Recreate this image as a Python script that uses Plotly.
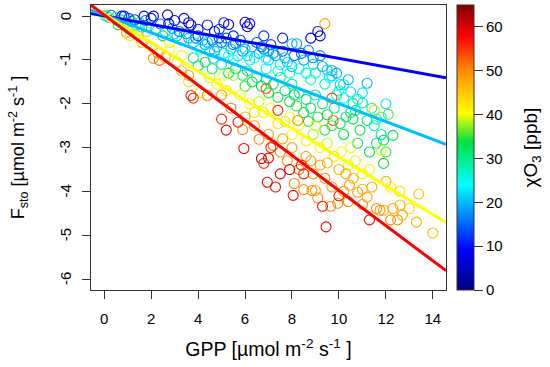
import plotly.graph_objects as go
import numpy as np

# ---- data ----
pts = [
# near origin
(0.0,0.02,38),(0.1,0.0,30),(0.2,-0.03,22),(0.3,0.02,15),(0.35,-0.05,42),(0.5,-0.02,28),(0.55,-0.1,36),
(0.7,-0.08,20),(0.75,0.0,10),(0.85,0.0,8),(0.9,-0.15,24),(0.95,-0.37,48),(1.0,-0.25,40),(1.05,-0.05,14),
(1.15,-0.12,18),(1.2,-0.3,44),(1.3,-0.08,12),(1.35,-0.2,26),(1.45,-0.4,46),(1.5,-0.15,22),(1.6,-0.25,30),
(1.7,0.0,7),(1.75,-0.1,16),(1.8,-0.35,38),(1.9,-0.22,24),(2.0,-0.05,10),(2.1,0.0,6),(2.1,-0.96,50),
(2.2,-0.3,21),(2.3,-0.85,49),(2.35,-1.01,52),(2.4,-0.18,15),(2.5,-0.45,34),(2.6,-0.35,22),(2.7,0.03,6),
(2.75,-0.17,8),(2.8,-0.6,40),(2.9,-0.28,18),(3.0,-0.4,23),(0.6,-0.2,32),(1.1,-0.45,42),(1.6,-0.6,44),
(2.0,-0.7,40),(2.6,-0.95,46),(3.1,-1.05,44),(3.3,-1.25,46),
# blue
(3.0,-0.1,9),(3.4,-0.05,7),(3.6,-0.15,6),(3.7,-0.2,8),(4.0,-0.3,10),(4.4,-0.2,11),(4.7,-0.35,9),
(4.9,-0.3,12),(5.3,-0.19,6),(5.5,-0.45,10),(6.0,-0.14,6),(6.1,-0.24,7),(6.2,-0.17,8),(8.8,-0.5,9),
(9.1,-0.35,8),(9.2,-0.45,9),(7.6,-0.5,11),(6.8,-0.45,12),(5.1,-0.15,10),
# cyan
(3.1,-0.45,20),(3.3,-0.55,24),(3.5,-0.4,18),(3.8,-0.6,22),(3.9,-0.5,16),(4.1,-0.75,25),(4.2,-0.55,20),
(4.3,-0.65,18),(4.5,-0.8,23),(4.6,-0.55,15),(4.65,-0.96,22),(4.8,-0.7,19),(5.0,-0.6,17),(5.1,-0.85,24),
(5.2,-0.5,14),(5.4,-0.75,20),(5.6,-0.62,16),(5.7,-0.9,22),(5.8,-0.55,13),(5.9,-0.8,19),(6.3,-0.7,18),
(6.4,-0.95,24),(6.5,-0.6,15),(6.6,-0.85,20),(6.8,-0.75,17),(7.0,-1.0,22),(7.1,-0.65,14),(7.3,-0.9,19),
(7.5,-1.1,23),(7.6,-0.8,16),(7.8,-1.05,21),(8.0,-0.63,20),(8.2,-0.63,18),(8.1,-0.9,15),(8.3,-1.2,24),
(8.5,-1.0,19),(8.7,-0.78,18),(8.9,-1.1,22),(9.0,-1.3,25),(9.2,-0.9,17),(9.5,-1.23,21),(9.6,-1.4,23),
(9.7,-1.24,20),(9.7,-1.36,22),(10.05,-1.56,21),(10.2,-1.56,23),(10.5,-1.73,22),(10.2,-1.87,24),
(11.2,-1.53,20),
(3.2,-0.35,16),(3.6,-0.5,19),(4.0,-0.45,15),(4.4,-0.6,21),(4.9,-0.5,14),(5.3,-0.9,25),(5.5,-0.65,17),
(6.0,-0.75,21),(6.2,-1.0,26),(6.7,-0.7,15),(6.9,-0.95,23),(7.2,-0.85,18),(7.4,-1.25,26),(7.7,-0.95,20),
(8.4,-0.85,16),(8.6,-1.3,27),(8.9,-0.95,17),(9.3,-1.15,20),(9.4,-1.55,27),(9.9,-1.3,19),(10.0,-1.7,25),
(10.4,-1.45,20),(10.8,-1.9,26),(11.0,-1.75,23),(11.4,-2.1,27),(11.8,-2.3,26),(12.0,-2.0,22),
(4.7,-0.8,20),(5.5,-1.0,24),(6.1,-0.9,22),(6.9,-1.2,25),(7.9,-1.3,26),(8.8,-1.45,26),(9.9,-1.8,27),
(10.7,-2.15,28),(11.6,-2.35,27),(7.0,-0.8,18),(8.0,-1.15,21),
# green
(3.8,-0.95,30),(4.0,-1.13,32),(4.3,-1.05,34),(4.6,-1.2,30),(5.0,-1.1,28),(5.3,-1.3,33),(5.6,-1.2,31),
(5.9,-1.35,32),(6.1,-1.25,29),(6.3,-1.5,34),(6.5,-1.4,31),(6.7,-1.6,33),(6.9,-1.45,30),(7.0,-1.75,35),
(7.2,-1.55,32),(7.4,-1.85,34),(7.5,-1.4,28),(7.7,-1.7,31),(7.9,-1.95,33),(8.0,-1.55,29),(8.2,-2.05,35),
(8.3,-1.75,30),(8.5,-2.2,34),(8.6,-1.9,31),(8.8,-2.1,32),(9.0,-1.8,29),(9.1,-2.3,34),(9.3,-2.0,31),
(9.5,-2.25,33),(9.7,-2.5,35),(9.8,-2.1,30),(10.05,-2.45,32),(10.3,-2.3,31),(10.5,-2.2,30),(10.6,-1.99,30),
(10.6,-2.35,34),(10.9,-2.6,33),(11.0,-1.98,29),(11.2,-2.38,31),(11.5,-2.5,27),(11.8,-2.7,30),
(11.9,-2.83,32),(12.3,-2.72,33),(11.9,-3.36,34),(12.1,-2.24,36),(10.8,-2.9,32),(11.3,-3.1,33),
(11.6,-2.9,30),(12.0,-3.1,35),(8.1,-1.8,32),(8.7,-2.4,34),(9.4,-2.6,35),(10.2,-2.7,34),(6.0,-1.6,35),
# yellow
(2.8,-0.75,40),(3.3,-0.9,40),(3.6,-1.5,44),(4.1,-1.74,41),(4.5,-1.4,39),(5.1,-1.35,40),(5.5,-1.35,38),
(5.2,-1.7,42),(5.8,-1.8,40),(6.2,-2.0,41),(6.6,-1.95,39),(6.8,-2.2,42),(7.1,-2.1,40),(7.4,-2.45,43),
(7.7,-2.4,39),(8.0,-2.7,41),(8.3,-2.5,40),(8.6,-2.85,42),(8.9,-2.7,38),(9.2,-3.0,41),(9.5,-2.9,39),
(9.8,-3.2,42),(10.1,-3.1,40),(10.4,-3.4,41),(10.7,-3.3,39),(11.0,-3.6,42),(11.3,-3.5,40),(11.5,-2.15,44),
(11.8,-3.06,39),(12.2,-3.9,41),(12.6,-4.0,43),(13.0,-4.39,44),(4.8,-1.55,41),(6.4,-2.2,43),(7.9,-2.3,40),
(9.0,-2.5,39),(10.5,-3.0,41),
# orange
(3.6,-1.35,48),(4.4,-1.81,50),(5.0,-1.8,49),(5.4,-2.1,51),(5.9,-2.59,50),(6.0,-2.3,47),(6.4,-2.5,48),
(6.6,-2.81,50),(6.9,-1.65,53),(7.0,-2.7,49),(7.2,-2.95,51),(7.5,-3.1,49),(7.6,-2.8,47),(7.8,-3.3,50),
(8.0,-3.0,48),(8.1,-3.82,50),(8.25,-2.38,50),(8.3,-3.5,51),(8.5,-3.96,49),(8.6,-3.2,48),(8.85,-3.98,50),
(8.9,-3.6,49),(9.0,-3.98,48),(9.1,-4.15,50),(9.2,-3.4,47),(9.4,-3.7,49),(9.65,-4.34,51),(9.7,-3.9,48),
(9.95,-4.27,50),(10.0,-3.5,47),(10.2,-4.0,49),(10.4,-4.23,50),(10.45,-3.86,48),(10.6,-3.7,47),
(10.8,-4.02,49),(11.0,-4.3,50),(11.2,-4.13,48),(11.4,-3.9,47),(11.6,-4.39,50),(11.75,-4.43,49),
(11.9,-4.43,48),(12.0,-3.77,47),(12.2,-4.65,50),(12.3,-4.39,48),(12.5,-4.65,49),(12.6,-4.31,47),
(12.7,-4.54,48),(13.3,-4.7,47),(13.4,-4.06,46),(14.0,-4.95,46),(9.75,-2.38,52),(9.7,-1.87,54),
(9.4,-0.17,48),(8.8,-3.3,48),(9.5,-3.35,47),(10.3,-3.6,48),(11.0,-3.95,47),
# red
(5.2,-2.6,58),(5.7,-2.42,57),(5.95,-3.02,58),(6.7,-3.25,62),(6.8,-3.36,55),(7.0,-3.24,58),(6.95,-3.79,58),
(7.3,-3.9,57),(7.4,-2.15,56),(7.1,-3.0,56),(7.5,-3.6,60),(8.05,-4.09,58),(8.5,-3.6,56),(9.3,-4.34,57),
(9.45,-4.81,58),(10.0,-4.1,56),(11.3,-4.65,57),(3.8,-1.87,55),(3.7,-1.81,56),(5.0,-2.35,55),
(7.9,-3.5,60),(8.4,-3.4,56),
]
gpp = [p[0] for p in pts]
fsto = [p[1] for p in pts]
o3 = [p[2] for p in pts]

# regression lines (intercept, slope) per ozone class
line_intercepts = [0.005, 0.03, 0.05, 0.03]
line_slopes = [-0.097, -0.203, -0.327, -0.401]
line_colors = ["#0000FF", "#00BFFF", "#FFFF00", "#FF0000"]

x_ticks = [0, 2, 4, 6, 8, 10, 12, 14]
y_ticks = [0, -1, -2, -3, -4, -5, -6]
cb_ticks = [0, 10, 20, 30, 40, 50, 60]

x_range = [-0.56, 14.56]
y_range = [-6.25, 0.255]

jet = [[0.0, "#00007F"], [0.14, "#0000FF"], [0.37, "#00FFFF"], [0.52, "#00E040"],
       [0.62, "#FFFF00"], [0.77, "#FF8C00"], [0.89, "#FF0000"], [1.0, "#7F0000"]]

FONT = "Liberation Sans, Arial, sans-serif"

fig = go.Figure()
fig.add_trace(go.Scatter(
    x=gpp, y=fsto, mode="markers",
    marker=dict(symbol="circle-open", size=10, color=o3, colorscale=jet, cmin=0, cmax=65,
                line=dict(width=1.1),
                showscale=True,
                colorbar=dict(x=1.031, xanchor="left", xref="paper", xpad=0, ypad=0,
                              y=0.5, yanchor="middle", len=1.0, lenmode="fraction",
                              thickness=17, outlinewidth=1, outlinecolor="#333",
                              tickvals=cb_ticks, ticks="outside", ticklen=9,
                              tickprefix="\u00a0",
                              tickcolor="#333", tickfont=dict(size=15, color="black", family=FONT))),
    showlegend=False, cliponaxis=True))

xs = np.array(x_range)
for b0, b1, c in zip(line_intercepts, line_slopes, line_colors):
    fig.add_trace(go.Scatter(x=xs, y=b0 + b1 * xs, mode="lines",
                             line=dict(color=c, width=3), showlegend=False))

# rotated y tick labels (R style)
for v in y_ticks:
    fig.add_annotation(x=0, xref="paper", y=v, yref="y", text=str(v), textangle=-90,
                       showarrow=False, xanchor="center", yanchor="middle", xshift=-26,
                       font=dict(size=15, color="black", family=FONT))

# colour bar title
fig.add_annotation(x=1.242, xref="paper", y=0.5, yref="paper", text="χO<sub>3</sub> [ppb]",
                   textangle=-90, showarrow=False, xanchor="center", yanchor="middle",
                   font=dict(size=19, color="black", family=FONT))

fig.update_layout(
    width=550, height=367, margin=dict(l=91, r=104, t=5, b=77, autoexpand=False),
    plot_bgcolor="white", paper_bgcolor="white",
    font=dict(family=FONT, color="black"),
    xaxis=dict(range=x_range, tickvals=x_ticks, ticks="outside", ticklen=8,
               tickcolor="#333", showline=True, linecolor="#333", linewidth=1, mirror=True,
               showgrid=False, zeroline=False, tickfont=dict(size=15), ticklabelstandoff=7,
               automargin=False,
               title=dict(text="GPP [µmol m<sup>-2</sup> s<sup>-1</sup> ]", font=dict(size=19.5),
                          standoff=16)),
    yaxis=dict(range=y_range, tickvals=y_ticks, ticks="outside", ticklen=8, showticklabels=False,
               tickcolor="#333", showline=True, linecolor="#333", linewidth=1, mirror=True,
               showgrid=False, zeroline=False, automargin=False,
               title=dict(text="F<sub>sto</sub> [µmol m<sup>-2</sup> s<sup>-1</sup> ]",
                          font=dict(size=18), standoff=52)),
)
fig.write_html("out.html", config={"displayModeBar": False},
               post_script="document.body.style.margin='0';document.body.style.padding='0';")
